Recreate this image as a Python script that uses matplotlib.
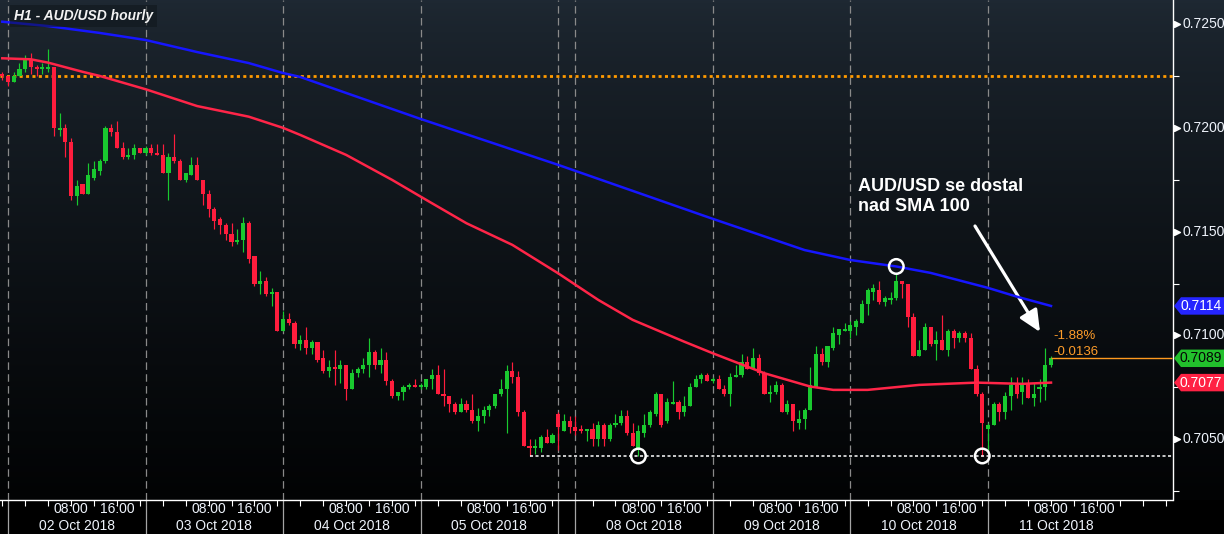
import numpy as np
import matplotlib
matplotlib.use("Agg")
import matplotlib.pyplot as plt
from matplotlib import transforms
from matplotlib.patches import Polygon

# AUD/USD hourly candles, one slot per hour (slot 0 = 01 Oct 20:00)
opens = [0.7226, 0.7225, 0.7222, 0.7225, 0.7228, 0.7233, 0.7229, 0.7228, 0.7228, 0.7229,
         0.7199, 0.7200, 0.7193, 0.7167, 0.7173, 0.7168, 0.7176, 0.7179, 0.7184, 0.7200,
         0.7198, 0.7190, 0.7186, 0.7187, 0.7190, 0.7188, 0.7190, 0.7188, 0.7187, 0.7178,
         0.7186, 0.7184, 0.7175, 0.7177, 0.7182, 0.7175, 0.7168, 0.7161, 0.7156, 0.7153,
         0.7149, 0.7145, 0.7146, 0.7154, 0.7138, 0.7125, 0.7126, 0.7120, 0.7121, 0.7102,
         0.7108, 0.7106, 0.7096, 0.7098, 0.7094, 0.7097, 0.7089, 0.7083, 0.7085, 0.7084,
         0.7086, 0.7074, 0.7082, 0.7084, 0.7086, 0.7092, 0.7086, 0.7088, 0.7078, 0.7071,
         0.7073, 0.7075, 0.7076, 0.7075, 0.7075, 0.7079, 0.7081, 0.7072, 0.7071, 0.7067,
         0.7063, 0.7067, 0.7064, 0.7059, 0.7061, 0.7064, 0.7066, 0.7072, 0.7074, 0.7083,
         0.7080, 0.7063, 0.7047, 0.7046, 0.7046, 0.7051, 0.7048, 0.7062, 0.7054, 0.7059,
         0.7056, 0.7055, 0.7054, 0.7055, 0.7050, 0.7057, 0.7050, 0.7057, 0.7058, 0.7061,
         0.7053, 0.7046, 0.7053, 0.7057, 0.7062, 0.7072, 0.7059, 0.7067, 0.7068, 0.7063,
         0.7066, 0.7075, 0.7079, 0.7081, 0.7078, 0.7079, 0.7074, 0.7072, 0.7080, 0.7081,
         0.7087, 0.7084, 0.7089, 0.7082, 0.7072, 0.7073, 0.7076, 0.7063, 0.7067, 0.7058,
         0.7060, 0.7064, 0.7075, 0.7091, 0.7087, 0.7094, 0.7100, 0.7102, 0.7102, 0.7104,
         0.7106, 0.7115, 0.7121, 0.7122, 0.7116, 0.7117, 0.7118, 0.7126, 0.7125, 0.7109,
         0.7090, 0.7093, 0.7104, 0.7096, 0.7098, 0.7093, 0.7102, 0.7099, 0.7101, 0.7099,
         0.7084, 0.7072, 0.7055, 0.7057, 0.7067, 0.7063, 0.7071, 0.7076, 0.7073, 0.7077,
         0.7070, 0.7074, 0.7075, 0.7086]
highs = [0.7227, 0.7225, 0.7227, 0.7231, 0.7235, 0.7236, 0.7230, 0.7231, 0.7238, 0.7229,
         0.7207, 0.7202, 0.7195, 0.7175, 0.7173, 0.7183, 0.7184, 0.7185, 0.7201, 0.7202,
         0.7203, 0.7193, 0.7190, 0.7192, 0.7190, 0.7191, 0.7192, 0.7192, 0.7192, 0.7188,
         0.7197, 0.7185, 0.7178, 0.7186, 0.7186, 0.7175, 0.7170, 0.7162, 0.7157, 0.7154,
         0.7154, 0.7151, 0.7157, 0.7155, 0.7138, 0.7131, 0.7128, 0.7123, 0.7121, 0.7112,
         0.7111, 0.7107, 0.7100, 0.7104, 0.7098, 0.7097, 0.7093, 0.7088, 0.7093, 0.7088,
         0.7086, 0.7084, 0.7085, 0.7089, 0.7099, 0.7093, 0.7094, 0.7092, 0.7079, 0.7073,
         0.7076, 0.7077, 0.7079, 0.7077, 0.7079, 0.7084, 0.7086, 0.7084, 0.7071, 0.7068,
         0.7070, 0.7069, 0.7072, 0.7065, 0.7066, 0.7067, 0.7072, 0.7079, 0.7086, 0.7087,
         0.7083, 0.7064, 0.7050, 0.7050, 0.7052, 0.7055, 0.7053, 0.7063, 0.7062, 0.7061,
         0.7061, 0.7057, 0.7055, 0.7058, 0.7059, 0.7058, 0.7058, 0.7062, 0.7064, 0.7064,
         0.7058, 0.7057, 0.7062, 0.7064, 0.7073, 0.7072, 0.7070, 0.7078, 0.7069, 0.7071,
         0.7077, 0.7081, 0.7082, 0.7082, 0.7080, 0.7081, 0.7076, 0.7082, 0.7086, 0.7091,
         0.7090, 0.7094, 0.7091, 0.7083, 0.7076, 0.7078, 0.7077, 0.7069, 0.7067, 0.7064,
         0.7065, 0.7085, 0.7095, 0.7094, 0.7095, 0.7104, 0.7103, 0.7106, 0.7107, 0.7108,
         0.7117, 0.7123, 0.7125, 0.7126, 0.7119, 0.7121, 0.7130, 0.7126, 0.7125, 0.7111,
         0.7098, 0.7106, 0.7104, 0.7102, 0.7110, 0.7103, 0.7103, 0.7102, 0.7102, 0.7101,
         0.7086, 0.7073, 0.7058, 0.7068, 0.7068, 0.7073, 0.7080, 0.7080, 0.7080, 0.7079,
         0.7077, 0.7079, 0.7094, 0.7090]
lows = [0.7223, 0.7220, 0.7222, 0.7225, 0.7227, 0.7226, 0.7225, 0.7226, 0.7227, 0.7196,
        0.7196, 0.7186, 0.7165, 0.7163, 0.7168, 0.7168, 0.7175, 0.7177, 0.7183, 0.7196,
        0.7190, 0.7185, 0.7185, 0.7185, 0.7188, 0.7187, 0.7187, 0.7187, 0.7178, 0.7165,
        0.7183, 0.7175, 0.7174, 0.7177, 0.7175, 0.7163, 0.7157, 0.7151, 0.7149, 0.7146,
        0.7143, 0.7144, 0.7140, 0.7135, 0.7124, 0.7120, 0.7119, 0.7114, 0.7102, 0.7102,
        0.7105, 0.7094, 0.7093, 0.7091, 0.7091, 0.7087, 0.7082, 0.7080, 0.7076, 0.7077,
        0.7069, 0.7074, 0.7080, 0.7082, 0.7080, 0.7084, 0.7082, 0.7076, 0.7070, 0.7069,
        0.7069, 0.7074, 0.7075, 0.7074, 0.7074, 0.7074, 0.7072, 0.7066, 0.7063, 0.7062,
        0.7063, 0.7063, 0.7058, 0.7054, 0.7058, 0.7061, 0.7065, 0.7071, 0.7053, 0.7077,
        0.7061, 0.7047, 0.7042, 0.7043, 0.7044, 0.7048, 0.7048, 0.7045, 0.7054, 0.7053,
        0.7052, 0.7053, 0.7049, 0.7047, 0.7047, 0.7047, 0.7049, 0.7056, 0.7057, 0.7052,
        0.7047, 0.7042, 0.7051, 0.7056, 0.7061, 0.7056, 0.7058, 0.7067, 0.7060, 0.7061,
        0.7066, 0.7075, 0.7077, 0.7078, 0.7077, 0.7074, 0.7071, 0.7066, 0.7080, 0.7080,
        0.7084, 0.7084, 0.7081, 0.7072, 0.7068, 0.7072, 0.7063, 0.7062, 0.7054, 0.7055,
        0.7055, 0.7064, 0.7075, 0.7086, 0.7085, 0.7093, 0.7096, 0.7102, 0.7099, 0.7100,
        0.7106, 0.7110, 0.7117, 0.7115, 0.7114, 0.7115, 0.7117, 0.7118, 0.7104, 0.7090,
        0.7090, 0.7093, 0.7095, 0.7088, 0.7093, 0.7090, 0.7094, 0.7097, 0.7097, 0.7084,
        0.7071, 0.7042, 0.7044, 0.7057, 0.7059, 0.7060, 0.7064, 0.7070, 0.7067, 0.7070,
        0.7066, 0.7068, 0.7069, 0.7085]
closes = [0.7225, 0.7222, 0.7225, 0.7228, 0.7233, 0.7229, 0.7228, 0.7229, 0.7229, 0.7200,
          0.7200, 0.7193, 0.7167, 0.7172, 0.7168, 0.7177, 0.7180, 0.7184, 0.7200, 0.7198,
          0.7190, 0.7186, 0.7187, 0.7190, 0.7188, 0.7190, 0.7188, 0.7187, 0.7178, 0.7186,
          0.7184, 0.7175, 0.7178, 0.7182, 0.7175, 0.7168, 0.7161, 0.7155, 0.7153, 0.7149,
          0.7145, 0.7146, 0.7154, 0.7137, 0.7125, 0.7126, 0.7120, 0.7121, 0.7102, 0.7108,
          0.7106, 0.7096, 0.7098, 0.7094, 0.7097, 0.7088, 0.7083, 0.7085, 0.7084, 0.7086,
          0.7074, 0.7082, 0.7084, 0.7086, 0.7092, 0.7086, 0.7088, 0.7078, 0.7071, 0.7073,
          0.7075, 0.7076, 0.7075, 0.7076, 0.7079, 0.7081, 0.7072, 0.7071, 0.7067, 0.7063,
          0.7067, 0.7064, 0.7059, 0.7061, 0.7064, 0.7066, 0.7072, 0.7074, 0.7083, 0.7080,
          0.7063, 0.7047, 0.7046, 0.7047, 0.7051, 0.7048, 0.7052, 0.7056, 0.7059, 0.7056,
          0.7054, 0.7054, 0.7055, 0.7050, 0.7057, 0.7050, 0.7057, 0.7058, 0.7061, 0.7053,
          0.7047, 0.7054, 0.7057, 0.7063, 0.7072, 0.7057, 0.7068, 0.7068, 0.7063, 0.7066,
          0.7075, 0.7079, 0.7081, 0.7078, 0.7079, 0.7074, 0.7072, 0.7080, 0.7081, 0.7087,
          0.7084, 0.7089, 0.7082, 0.7072, 0.7073, 0.7076, 0.7063, 0.7067, 0.7059, 0.7060,
          0.7064, 0.7076, 0.7091, 0.7087, 0.7095, 0.7101, 0.7103, 0.7103, 0.7105, 0.7107,
          0.7115, 0.7122, 0.7123, 0.7116, 0.7118, 0.7118, 0.7126, 0.7125, 0.7109, 0.7090,
          0.7093, 0.7104, 0.7096, 0.7098, 0.7093, 0.7102, 0.7099, 0.7101, 0.7099, 0.7084,
          0.7072, 0.7058, 0.7057, 0.7067, 0.7063, 0.7071, 0.7076, 0.7072, 0.7077, 0.7070,
          0.7072, 0.7075, 0.7086, 0.7089]

# moving averages at some slots
sma200_idx = [0, 8, 17, 25, 34, 43, 49, 52, 73, 97, 124, 140, 148, 156, 162, 172, 177, 183]
sma200 = [0.7251, 0.72489, 0.72456, 0.72422, 0.72364, 0.72311, 0.72263, 0.72244, 0.72042,
          0.71821, 0.71561, 0.71411, 0.71363, 0.71332, 0.71301, 0.71229, 0.71187, 0.71142]
sma100_idx = [0, 5, 8, 14, 17, 25, 34, 43, 49, 52, 60, 68, 74, 81, 89, 97, 104, 110, 119,
              124, 133, 141, 145, 151, 160, 170, 178, 183]
sma100 = [0.72334, 0.72329, 0.72313, 0.72269, 0.72249, 0.72185, 0.72104, 0.72053, 0.71999,
          0.71965, 0.71869, 0.71749, 0.71652, 0.7154, 0.71436, 0.71299, 0.71171, 0.71075,
          0.7097, 0.70914, 0.70818, 0.70754, 0.70738, 0.70738, 0.70762, 0.70773, 0.70767,
          0.70773]

day_starts = [1, 25, 49, 73, 100, 124, 148, 172]
day_names = ["02 Oct 2018", "03 Oct 2018", "04 Oct 2018", "05 Oct 2018",
             "08 Oct 2018", "09 Oct 2018", "10 Oct 2018", "11 Oct 2018"]
weekend_break = 97
orange_level = 0.7225
price_ticks = [0.7050, 0.7100, 0.7150, 0.7200, 0.7250]
minor_price_ticks = [0.7025, 0.7075, 0.7125, 0.7175, 0.7225]

W, H = 1224, 534
GREEN = "#19c92f"
RED = "#ff1d3d"
AXFONT = "Liberation Sans"

fig = plt.figure(figsize=(W / 100, H / 100), dpi=100)
fig.patch.set_facecolor("black")
y0 = 34 / H

# dark gradient behind chart and price scale
bg = fig.add_axes([0, y0, 1, 1 - y0])
bg.axis("off")
t = np.linspace(0, 1, 500)[:, None] ** 0.75
top = np.array([0.12, 0.16, 0.2])
bot = np.array([0.008, 0.012, 0.016])
grad = (top * (1 - t) + bot * t).reshape(500, 1, 3)
bg.imshow(grad, aspect="auto", extent=[0, 1, 0, 1])
bg.set_xlim(0, 1)
bg.set_ylim(0, 1)

ax = fig.add_axes([0, y0, 1172.5 / W, 1 - y0])
ax.set_facecolor("none")
ax.set_xlim(-0.4, 204.2)
ax.set_ylim(0.70208, 0.726145)

o = np.array(opens)
h = np.array(highs)
l = np.array(lows)
c = np.array(closes)
idx = np.arange(len(c))
cols = np.where(c >= o, GREEN, RED)

# day separators
seps = day_starts + [weekend_break]
for d in seps:
    ax.axvline(d, color="#8a8a8a", lw=0.9, ls=(0, (6, 3.5)), zorder=1)
below = transforms.blended_transform_factory(ax.transData, ax.transAxes)
ax.vlines(seps, -34 / 500, 0, transform=below, clip_on=False, color="#a5a5a5", lw=0.9)

ax.axhline(orange_level, color="#ff9a00", lw=2, ls=(0, (1.1, 1.2)), zorder=2)

# candles
ax.vlines(idx, l, h, colors=cols, lw=0.85, zorder=3)
body = np.maximum(np.abs(c - o), 0.00003)
ax.bar(idx, body, bottom=np.minimum(o, c), width=0.72, color=cols, lw=0, zorder=4)

ax.plot(sma200_idx, sma200, color="#1616ff", lw=1.8, zorder=5)
ax.plot(sma100_idx, sma100, color="#ff2548", lw=1.8, zorder=5)

# support line and last price line
lowest = min(lows)
ax.hlines(lowest, lows.index(lowest), 204.2, color="white", lw=1.1, ls=(0, (2, 1.6)), zorder=5)
ax.hlines(c[-1], idx[-1], 204.2, color="#ff9a1f", lw=1, zorder=5)

# circles on touches
ax.scatter([111, 171], [lows[111], lows[171]], s=110, facecolors="none",
           edgecolors="white", lw=1.8, zorder=7)
ax.scatter([156], [sma200[sma200_idx.index(156)]], s=110, facecolors="none",
           edgecolors="white", lw=1.8, zorder=7)

for s in ["left", "top"]:
    ax.spines[s].set_visible(False)
for s in ["right", "bottom"]:
    ax.spines[s].set_color("white")
    ax.spines[s].set_linewidth(1)

ticks = [0]
for d in day_starts + [196]:
    ticks += [d + k for k in range(3, 24, 4)]
ticks = [x for x in ticks if x < 204]
ax.set_xticks(ticks)
ax.tick_params(axis="x", length=4, width=0.8, color="white", labelbottom=False)
ax.set_yticks([])
ax.set_yticks(minor_price_ticks, minor=True)
ax.tick_params(axis="y", which="minor", left=False, right=True, length=4, width=0.8,
               color="white", labelright=False, labelleft=False)

# time and date labels
trow = transforms.blended_transform_factory(ax.transData, fig.transFigure)
for d, name in zip(day_starts, day_names):
    ax.text(d + 11, (H - 509) / H, "08:00", transform=trow, ha="center", va="center",
            fontsize=10, family=AXFONT, color="#eef3fb")
    ax.text(d + 19, (H - 509) / H, "16:00", transform=trow, ha="center", va="center",
            fontsize=10, family=AXFONT, color="#eef3fb")
    ax.text(d + 12, (H - 526) / H, name, transform=trow, ha="center", va="center",
            fontsize=10, family=AXFONT, color="#eef3fb")

# price scale labels
yside = transforms.blended_transform_factory(ax.transAxes, ax.transData)
ax.scatter([1.0035] * len(price_ticks), price_ticks, marker=">", s=18, color="white",
           transform=yside, clip_on=False, zorder=8)
for v in price_ticks:
    ax.text(1.0085, v, f"{v:.4f}", transform=yside, ha="left", va="center",
            fontsize=10, family=AXFONT, color="#eef3fb")

figy = transforms.blended_transform_factory(fig.transFigure, ax.transData)
boxes = [(sma200[-1], "#2525ff", "white"), (closes[-1], "#22c02c", "#050505"),
         (sma100[-1], "#ff2244", "white")]
hh = 0.00042
for v, fc, tc in boxes:
    pts = [(1174 / W, v), (1181 / W, v + hh), (1.0, v + hh), (1.0, v - hh), (1181 / W, v - hh)]
    ax.add_patch(Polygon(pts, closed=True, transform=figy, fc=fc, ec="none",
                         clip_on=False, zorder=9))
    ax.text(1201 / W, v, f"{v:.4f}", transform=figy, ha="center", va="center",
            fontsize=10, family=AXFONT, color=tc, zorder=10)

# texts and arrow
fig.text(14 / W, 1 - 16 / H, "H1 - AUD/USD hourly", family=AXFONT, style="italic",
         weight="bold", fontsize=10, color="#f2f2f2", va="center",
         bbox=dict(fc="#0e1519", alpha=0.5, ec="none", pad=3))
fig.text(858 / W, 1 - 178 / H, "AUD/USD se dostal\nnad SMA 100", family=AXFONT,
         weight="bold", fontsize=13, color="white", va="top", linespacing=1.2)
fig.text(1053 / W, 1 - 336 / H, "-1.88%", family=AXFONT, fontsize=9.5, color="#ff9d2a",
         va="center")
fig.text(1053 / W, 1 - 352 / H, "-0.0136", family=AXFONT, fontsize=9.5, color="#ff9d2a",
         va="center")
ax.annotate("", xy=(1040, H - 332), xytext=(975, H - 226), xycoords="figure pixels",
            textcoords="figure pixels",
            arrowprops=dict(arrowstyle="-|>,head_length=0.65,head_width=0.3",
                            mutation_scale=20, color="white", lw=2.3,
                            shrinkA=0, shrinkB=0))

fig.savefig("out.png", dpi=100, facecolor=fig.get_facecolor())
